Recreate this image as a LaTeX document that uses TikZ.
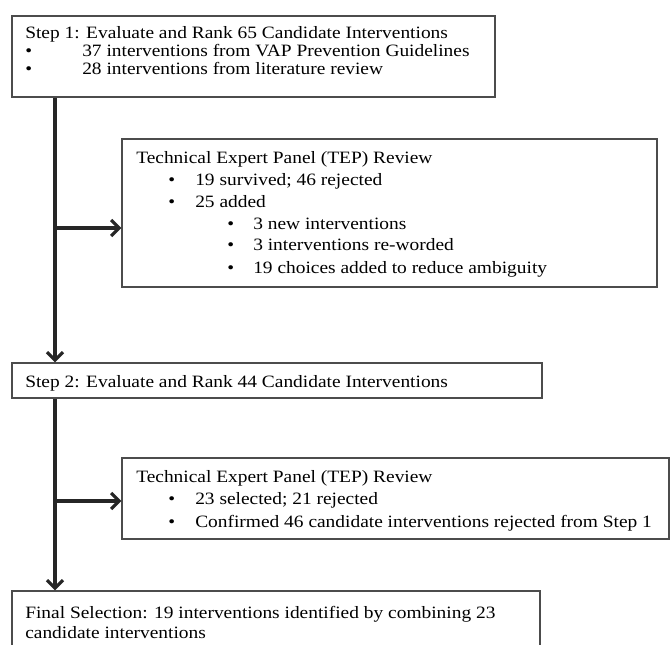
\documentclass[tikz,border=0pt]{standalone}
\usepackage{fontspec}
\setmainfont{Liberation Serif}[FakeStretch=1.12]
\usetikzlibrary{arrows.meta}
\usetikzlibrary{fit}

\tikzset{
  box/.style={draw=black!70, line width=0.8pt, inner sep=0pt},
  line/.style={anchor=base west, inner sep=0pt, font=\fontsize{13}{15}\selectfont},
  flow/.style={arrows={-Straight Barb[length=6pt,width=12pt]}, line width=2.4pt, black!85},
}

\begin{document}
\begin{tikzpicture}[x=0.75pt, y=-0.75pt]
        \useasboundingbox (0, 0) rectangle (672, 644);

        \node [box, fit={(12, 16) (495, 97)}] (step1) {};
        \node [box, fit={(122, 139) (657, 287)}] (tep1) {};
        \node [box, fit={(12, 363) (542, 398)}] (step2) {};
        \node [box, fit={(122, 458) (669, 539)}] (tep2) {};
        \node [box, fit={(12, 591) (540, 680)}] (final) {};

        % step 1
        \node [line] (s1title) at (25, 38) {Step 1: Evaluate and Rank 65 Candidate Interventions};
        \foreach \y / \txt [count=\i] in {56/37 interventions from VAP Prevention Guidelines, 74/28 interventions from literature review}{
          \node [line] (s1dot\i) at (25, \y) {•};
          \node [line] (s1item\i) at (82, \y) {\txt};
        }

        % first panel review
        \node [line] (t1title) at (136, 163) {Technical Expert Panel (TEP) Review};
        \foreach \y / \txt [count=\i] in {185/19 survived; 46 rejected, 207/25 added}{
          \node [line] (t1dot\i) at (168, \y) {•};
          \node [line] (t1item\i) at (195, \y) {\txt};
        }
        \foreach \y / \txt [count=\i] in {229/3 new interventions, 250/3 interventions re-worded, 273/19 choices added to reduce ambiguity}{
          \node [line] (t1subdot\i) at (227, \y) {•};
          \node [line] (t1sub\i) at (253, \y) {\txt};
        }

        % step 2
        \node [line] (s2title) at (25, 387) {Step 2: Evaluate and Rank 44 Candidate Interventions};

        % second panel review
        \node [line] (t2title) at (136, 482) {Technical Expert Panel (TEP) Review};
        \foreach \y / \txt [count=\i] in {504/23 selected; 21 rejected, 527/Confirmed 46 candidate interventions rejected from Step 1}{
          \node [line] (t2dot\i) at (168, \y) {•};
          \node [line] (t2item\i) at (195, \y) {\txt};
        }

        % final
        \node [line] (f1) at (25, 618) {Final Selection: 19 interventions identified by combining 23};
        \node [line] (f2) at (25, 638) {candidate interventions};

        \coordinate (trunk) at (55, 0);
        \coordinate (fork1) at (55, 228);
        \coordinate (fork2) at (55, 501);

        \draw [flow] (step1.south -| trunk) -- (step2.north -| trunk);
        \draw [flow] (fork1) -- (fork1 -| tep1.west);
        \draw [flow] (step2.south -| trunk) -- (final.north -| trunk);
        \draw [flow] (fork2) -- (fork2 -| tep2.west);
      \end{tikzpicture}
\end{document}
